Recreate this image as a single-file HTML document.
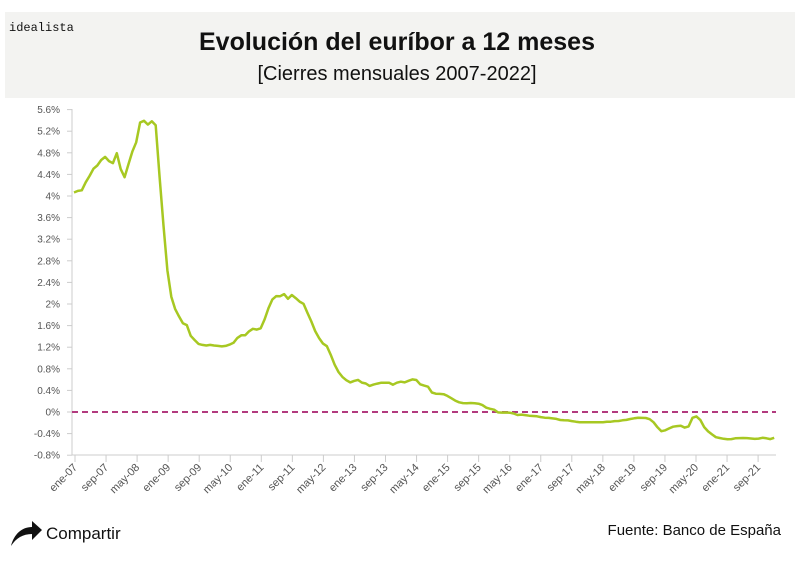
<!DOCTYPE html>
<html><head><meta charset="utf-8">
<style>
html,body{margin:0;padding:0;background:#fff;width:800px;height:561px;overflow:hidden;font-family:"Liberation Sans",sans-serif;}
</style></head>
<body>
<svg id="s" width="800" height="561" xmlns="http://www.w3.org/2000/svg" font-family="Liberation Sans, sans-serif">
<rect x="5" y="12" width="790" height="86" fill="#f3f3f1"/>
<text x="9" y="31" font-size="12" font-family="Liberation Mono, monospace" fill="#111">idealista</text>
<text x="397" y="50" font-size="25" font-weight="bold" text-anchor="middle" fill="#111">Evolución del euríbor a 12 meses</text>
<text x="397" y="80" font-size="20" text-anchor="middle" fill="#111">[Cierres mensuales 2007-2022]</text>
<g id="ax" stroke="#ccc" stroke-width="1"></g>
<g id="yl" font-size="10" fill="#555" text-anchor="end"></g>
<g id="xl" font-size="11" fill="#555" text-anchor="end"></g>
<line x1="72" y1="412" x2="776" y2="412" stroke="#b23a7e" stroke-width="2" stroke-dasharray="6,4"/>
<path id="ln" fill="none" stroke="#a7c822" stroke-width="2.5" stroke-linejoin="round"/>
<path d="M11 546 C14 534 22 527 32 527 L32 521 L42 530 L32 540 L32 534 C23 534 16 538 11 546 Z" fill="#111"/>
<text x="46" y="539" font-size="17" fill="#111">Compartir</text>
<text x="781" y="535" font-size="15" text-anchor="end" fill="#111">Fuente: Banco de España</text>
</svg>
<script>
var d=[4.064,4.094,4.106,4.253,4.373,4.505,4.564,4.666,4.725,4.647,4.607,4.793,
4.498,4.349,4.590,4.820,4.994,5.361,5.393,5.323,5.384,5.310,4.350,3.452,
2.622,2.135,1.909,1.771,1.644,1.610,1.412,1.334,1.261,1.243,1.231,1.242,
1.232,1.225,1.215,1.225,1.249,1.281,1.373,1.421,1.420,1.495,1.541,1.526,
1.550,1.714,1.924,2.086,2.147,2.144,2.183,2.097,2.167,2.110,2.044,2.004,
1.837,1.678,1.499,1.368,1.266,1.219,1.061,0.877,0.740,0.650,0.588,0.549,
0.575,0.594,0.545,0.528,0.484,0.507,0.525,0.542,0.543,0.541,0.506,0.543,
0.562,0.549,0.577,0.604,0.592,0.513,0.488,0.469,0.362,0.338,0.335,0.329,
0.298,0.255,0.212,0.180,0.165,0.163,0.167,0.161,0.154,0.128,0.079,0.059,
0.042,-0.008,-0.012,-0.010,-0.013,-0.028,-0.056,-0.048,-0.057,-0.069,-0.074,-0.080,
-0.095,-0.106,-0.110,-0.119,-0.127,-0.149,-0.154,-0.156,-0.168,-0.180,-0.189,-0.190,
-0.189,-0.191,-0.191,-0.190,-0.188,-0.181,-0.180,-0.169,-0.166,-0.154,-0.147,-0.129,
-0.116,-0.108,-0.109,-0.112,-0.134,-0.190,-0.283,-0.356,-0.339,-0.304,-0.272,-0.261,
-0.253,-0.288,-0.266,-0.108,-0.081,-0.147,-0.279,-0.359,-0.415,-0.466,-0.481,-0.497,
-0.505,-0.501,-0.487,-0.484,-0.481,-0.484,-0.491,-0.498,-0.492,-0.477,-0.487,-0.502,-0.477];
var p="";for(var i=0;i<d.length;i++){p+=(i?"L":"M")+(74+3.89*i).toFixed(1)+" "+(412-d[i]*54).toFixed(1);}
document.getElementById("ln").setAttribute("d",p);
var NS="http://www.w3.org/2000/svg";
function el(g,t,a,txt){var e=document.createElementNS(NS,t);for(var k in a)e.setAttribute(k,a[k]);if(txt)e.textContent=txt;document.getElementById(g).appendChild(e);}
el("ax","line",{x1:72,y1:109,x2:72,y2:455});
el("ax","line",{x1:72,y1:455,x2:776,y2:455});
var yl=["5.6%","5.2%","4.8%","4.4%","4%","3.6%","3.2%","2.8%","2.4%","2%","1.6%","1.2%","0.8%","0.4%","0%","-0.4%","-0.8%"];
for(var j=0;j<yl.length;j++){var y=109.6+j*21.6;el("ax","line",{x1:67,y1:y,x2:72,y2:y});el("yl","text",{x:60,y:y+3.5},yl[j]);}
var xl=["ene-07","sep-07","may-08","ene-09","sep-09","may-10","ene-11","sep-11","may-12","ene-13","sep-13","may-14","ene-15","sep-15","may-16","ene-17","sep-17","may-18","ene-19","sep-19","may-20","ene-21","sep-21"];
for(var k=0;k<xl.length;k++){var x=75+31.05*k;el("ax","line",{x1:x,y1:455,x2:x,y2:462});el("xl","text",{x:x+3,y:468,transform:"rotate(-45 "+(x+3)+" 468)"},xl[k]);}
</script>
</body></html>
